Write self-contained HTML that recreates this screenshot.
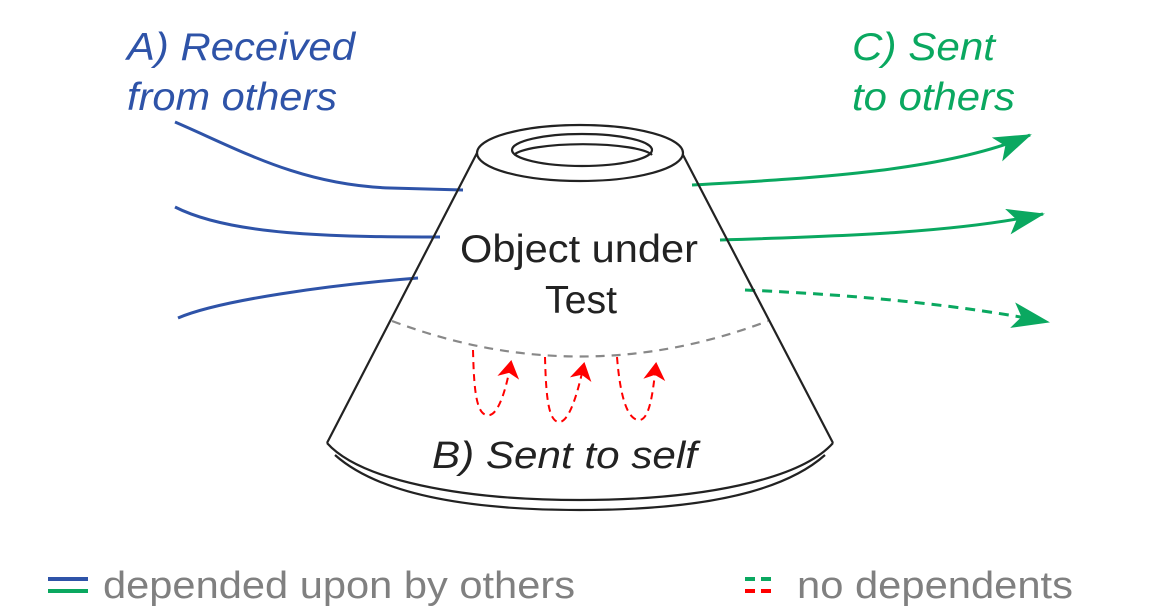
<!DOCTYPE html>
<html><head><meta charset="utf-8"><style>
html,body{margin:0;padding:0;background:#fff;}
svg{display:block;}
text{font-family:"Liberation Sans",Arial,sans-serif;}
</style></head><body>
<svg width="1153" height="614" viewBox="0 0 1153 614" xmlns="http://www.w3.org/2000/svg">
<defs>
<marker id="agb" markerWidth="38" markerHeight="26" refX="36" refY="13" orient="auto" markerUnits="userSpaceOnUse" viewBox="0 0 38 26">
<path d="M0,0 L38,13 L0,26 L9,13 Z" fill="#0aa860"/></marker>
<marker id="ar" markerWidth="18" markerHeight="24" refX="16" refY="12" orient="auto" markerUnits="userSpaceOnUse" viewBox="0 0 18 24">
<path d="M0,1 L18,12 L0,23 L5,12 Z" fill="#ff0000"/></marker>
</defs>
<!-- blue lines -->
<g stroke="#2e53a8" stroke-width="3" fill="none">
<path d="M175,122 C240,150 300,185 390,188 L463,190"/>
<path d="M175,207 C230,235 330,237 440,237"/>
<path d="M178,318 C220,300 330,285 418,278"/>
</g>
<!-- green lines -->
<g stroke="#0aa860" stroke-width="3" fill="none">
<path d="M692,185 C820,178 950,170 1030,135" marker-end="url(#agb)"/>
<path d="M720,240 C850,236 960,232 1043,214" marker-end="url(#agb)"/>
<path d="M745,290 C860,295 960,305 1048,322" stroke-dasharray="10,7" marker-end="url(#agb)"/>
</g>
<!-- cone -->
<g stroke="#222" stroke-width="2.2" fill="none">
<path d="M327,443 C360,480 460,500 580,500 C700,500 800,480 833,443"/>
<path d="M335,455 C380,495 470,510 580,510 C690,510 780,495 825,455"/>
<line x1="477" y1="153" x2="327" y2="443"/>
<line x1="682" y1="153" x2="833" y2="443"/>
<ellipse cx="580" cy="153" rx="103" ry="28" fill="#fff"/>
<ellipse cx="582" cy="150" rx="70" ry="16"/>
<path d="M514,155 A70,13 0 0 1 652,155"/>
</g>
<!-- gray dashed arc -->
<path d="M392,321 Q580,392 768,321" stroke="#888" stroke-width="2.2" fill="none" stroke-dasharray="9,7"/>
<!-- red loops -->
<g stroke="#ff0000" stroke-width="2" fill="none" stroke-dasharray="7,5">
<path d="M473,350 C474,390 476,418 490,415 C500,412 507,385 511,362" marker-end="url(#ar)"/>
<path d="M545,357 C546,395 548,423 560,422 C570,420 578,392 584,364" marker-end="url(#ar)"/>
<path d="M617,357 C620,395 627,421 640,420 C650,418 653,392 656,364" marker-end="url(#ar)"/>
</g>
<!-- labels -->
<text x="127" y="60" font-size="39" font-style="italic" fill="#2e53a8" textLength="228" lengthAdjust="spacingAndGlyphs">A) Received</text>
<text x="127" y="110" font-size="39" font-style="italic" fill="#2e53a8" textLength="210" lengthAdjust="spacingAndGlyphs">from others</text>
<text x="852" y="60" font-size="39" font-style="italic" fill="#0aa860" textLength="143" lengthAdjust="spacingAndGlyphs">C) Sent</text>
<text x="852" y="110" font-size="39" font-style="italic" fill="#0aa860" textLength="163" lengthAdjust="spacingAndGlyphs">to others</text>
<text x="460" y="262" font-size="39" fill="#222" textLength="238" lengthAdjust="spacingAndGlyphs">Object under</text>
<text x="545" y="313" font-size="39" fill="#222" textLength="72" lengthAdjust="spacingAndGlyphs">Test</text>
<text x="432" y="468" font-size="38" font-style="italic" fill="#222" textLength="265" lengthAdjust="spacingAndGlyphs">B) Sent to self</text>
<!-- legend -->
<rect x="48" y="577" width="40" height="4" fill="#2e53a8"/>
<rect x="48" y="589" width="40" height="4" fill="#0aa860"/>
<text x="103" y="598" font-size="38" fill="#808080" textLength="472" lengthAdjust="spacingAndGlyphs">depended upon by others</text>
<rect x="745" y="577" width="10" height="4" fill="#0aa860"/>
<rect x="761" y="577" width="10" height="4" fill="#0aa860"/>
<rect x="745" y="589" width="10" height="4" fill="#ff0000"/>
<rect x="761" y="589" width="10" height="4" fill="#ff0000"/>
<text x="797" y="598" font-size="38" fill="#808080" textLength="276" lengthAdjust="spacingAndGlyphs">no dependents</text>
</svg>
</body></html>
